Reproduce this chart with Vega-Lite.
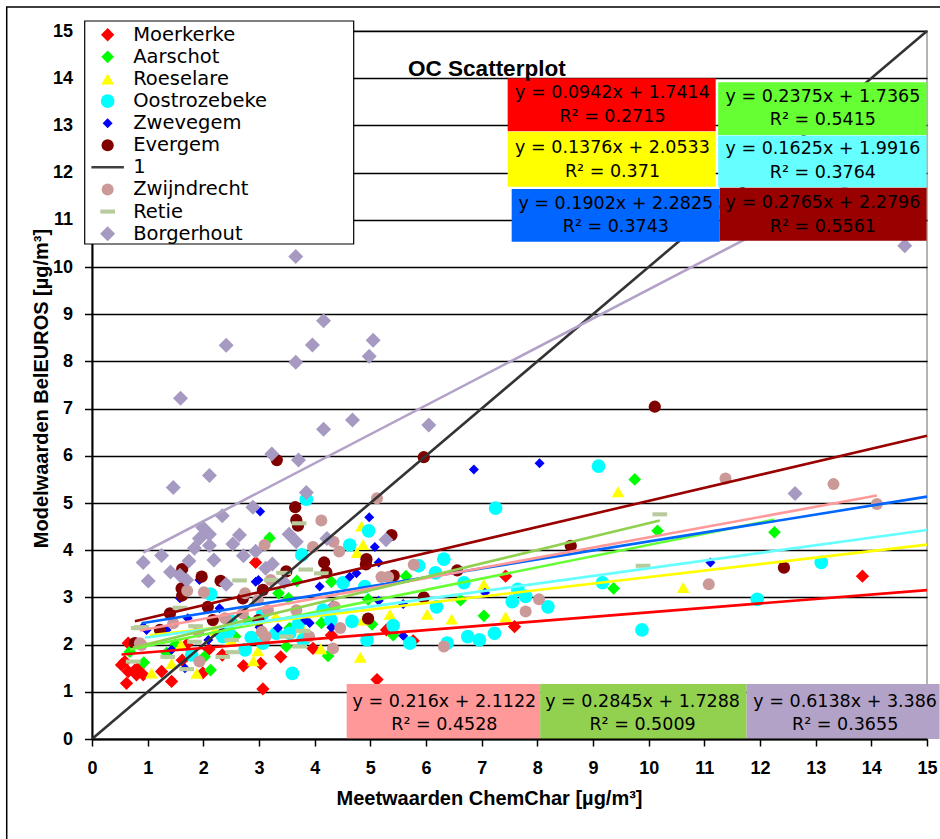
{
  "$schema": "https://vega.github.io/schema/vega-lite/v6.json",
  "width": 835,
  "height": 708,
  "autosize": "none",
  "padding": {"left": 92, "top": 31, "right": 13, "bottom": 100},
  "background": "#ffffff",
  "config": {
    "view": {"stroke": "#9a9a9a", "strokeWidth": 1.5},
    "axis": {"labelFlush": false, "labelOverlap": false}
  },
  "datasets": {
    "pts": [
      {"s": "Moerkerke", "x": 0.53, "y": 1.57}, {"s": "Moerkerke", "x": 0.59, "y": 1.64}, {"s": "Moerkerke", "x": 0.62, "y": 1.18}, {"s": "Moerkerke", "x": 0.65, "y": 2.03}, {"s": "Moerkerke", "x": 0.65, "y": 1.43}, {"s": "Moerkerke", "x": 0.77, "y": 1.46}, {"s": "Moerkerke", "x": 0.8, "y": 1.36}, {"s": "Moerkerke", "x": 0.83, "y": 1.5}, {"s": "Moerkerke", "x": 0.92, "y": 1.36}, {"s": "Moerkerke", "x": 1.25, "y": 1.43}, {"s": "Moerkerke", "x": 1.43, "y": 1.22}, {"s": "Moerkerke", "x": 1.62, "y": 1.67}, {"s": "Moerkerke", "x": 1.99, "y": 1.4}, {"s": "Moerkerke", "x": 2.34, "y": 1.78}, {"s": "Moerkerke", "x": 2.72, "y": 1.55}, {"s": "Moerkerke", "x": 3.03, "y": 1.6}, {"s": "Moerkerke", "x": 3.07, "y": 1.06}, {"s": "Moerkerke", "x": 3.39, "y": 1.74}, {"s": "Moerkerke", "x": 2.94, "y": 3.74}, {"s": "Moerkerke", "x": 3.97, "y": 1.92}, {"s": "Moerkerke", "x": 5.12, "y": 1.26}, {"s": "Moerkerke", "x": 5.29, "y": 2.31}, {"s": "Moerkerke", "x": 5.77, "y": 2.08}, {"s": "Moerkerke", "x": 7.43, "y": 3.45}, {"s": "Moerkerke", "x": 7.59, "y": 2.38}, {"s": "Moerkerke", "x": 13.84, "y": 3.45}, {"s": "Moerkerke", "x": 1.7, "y": 2.0}, {"s": "Moerkerke", "x": 2.1, "y": 1.9}, {"s": "Moerkerke", "x": 4.3, "y": 2.2},
      {"s": "Aarschot", "x": 0.68, "y": 1.85}, {"s": "Aarschot", "x": 0.93, "y": 1.62}, {"s": "Aarschot", "x": 1.34, "y": 1.82}, {"s": "Aarschot", "x": 2.02, "y": 1.74}, {"s": "Aarschot", "x": 2.13, "y": 1.46}, {"s": "Aarschot", "x": 2.5, "y": 2.52}, {"s": "Aarschot", "x": 2.57, "y": 2.17}, {"s": "Aarschot", "x": 3.04, "y": 2.24}, {"s": "Aarschot", "x": 3.19, "y": 4.26}, {"s": "Aarschot", "x": 3.35, "y": 3.09}, {"s": "Aarschot", "x": 3.49, "y": 1.96}, {"s": "Aarschot", "x": 3.53, "y": 2.98}, {"s": "Aarschot", "x": 3.55, "y": 2.35}, {"s": "Aarschot", "x": 3.68, "y": 3.35}, {"s": "Aarschot", "x": 4.12, "y": 2.46}, {"s": "Aarschot", "x": 4.24, "y": 1.76}, {"s": "Aarschot", "x": 4.3, "y": 3.33}, {"s": "Aarschot", "x": 4.96, "y": 2.96}, {"s": "Aarschot", "x": 5.03, "y": 2.43}, {"s": "Aarschot", "x": 5.41, "y": 2.2}, {"s": "Aarschot", "x": 5.64, "y": 3.45}, {"s": "Aarschot", "x": 6.62, "y": 2.94}, {"s": "Aarschot", "x": 7.04, "y": 2.61}, {"s": "Aarschot", "x": 9.37, "y": 3.19}, {"s": "Aarschot", "x": 9.75, "y": 5.5}, {"s": "Aarschot", "x": 10.16, "y": 4.41}, {"s": "Aarschot", "x": 12.26, "y": 4.38}, {"s": "Aarschot", "x": 1.5, "y": 2.0}, {"s": "Aarschot", "x": 2.3, "y": 2.2}, {"s": "Aarschot", "x": 2.8, "y": 2.5},
      {"s": "Roeselare", "x": 1.07, "y": 1.4}, {"s": "Roeselare", "x": 1.43, "y": 1.6}, {"s": "Roeselare", "x": 1.88, "y": 1.39}, {"s": "Roeselare", "x": 2.9, "y": 1.66}, {"s": "Roeselare", "x": 2.98, "y": 1.87}, {"s": "Roeselare", "x": 4.11, "y": 1.91}, {"s": "Roeselare", "x": 4.82, "y": 1.73}, {"s": "Roeselare", "x": 4.84, "y": 4.51}, {"s": "Roeselare", "x": 4.87, "y": 4.12}, {"s": "Roeselare", "x": 4.76, "y": 3.95}, {"s": "Roeselare", "x": 4.87, "y": 2.52}, {"s": "Roeselare", "x": 5.35, "y": 2.64}, {"s": "Roeselare", "x": 6.02, "y": 2.64}, {"s": "Roeselare", "x": 6.46, "y": 2.54}, {"s": "Roeselare", "x": 7.04, "y": 3.28}, {"s": "Roeselare", "x": 7.43, "y": 2.59}, {"s": "Roeselare", "x": 9.45, "y": 5.24}, {"s": "Roeselare", "x": 10.62, "y": 3.21}, {"s": "Roeselare", "x": 1.6, "y": 2.0}, {"s": "Roeselare", "x": 2.2, "y": 2.3}, {"s": "Roeselare", "x": 2.5, "y": 2.1}, {"s": "Roeselare", "x": 3.3, "y": 2.6}, {"s": "Roeselare", "x": 3.8, "y": 2.3},
      {"s": "Oostrozebeke", "x": 1.79, "y": 1.78}, {"s": "Oostrozebeke", "x": 2.13, "y": 3.07}, {"s": "Oostrozebeke", "x": 2.35, "y": 2.17}, {"s": "Oostrozebeke", "x": 2.45, "y": 2.27}, {"s": "Oostrozebeke", "x": 2.47, "y": 2.52}, {"s": "Oostrozebeke", "x": 2.75, "y": 1.89}, {"s": "Oostrozebeke", "x": 2.86, "y": 2.15}, {"s": "Oostrozebeke", "x": 3.07, "y": 2.03}, {"s": "Oostrozebeke", "x": 3.07, "y": 2.66}, {"s": "Oostrozebeke", "x": 3.31, "y": 2.24}, {"s": "Oostrozebeke", "x": 3.55, "y": 2.24}, {"s": "Oostrozebeke", "x": 3.6, "y": 1.39}, {"s": "Oostrozebeke", "x": 3.7, "y": 2.42}, {"s": "Oostrozebeke", "x": 3.77, "y": 3.9}, {"s": "Oostrozebeke", "x": 3.79, "y": 2.1}, {"s": "Oostrozebeke", "x": 3.85, "y": 5.08}, {"s": "Oostrozebeke", "x": 4.15, "y": 2.73}, {"s": "Oostrozebeke", "x": 4.29, "y": 2.52}, {"s": "Oostrozebeke", "x": 4.51, "y": 3.31}, {"s": "Oostrozebeke", "x": 4.63, "y": 4.11}, {"s": "Oostrozebeke", "x": 4.67, "y": 2.49}, {"s": "Oostrozebeke", "x": 4.9, "y": 3.23}, {"s": "Oostrozebeke", "x": 4.94, "y": 2.1}, {"s": "Oostrozebeke", "x": 4.97, "y": 4.41}, {"s": "Oostrozebeke", "x": 5.41, "y": 2.4}, {"s": "Oostrozebeke", "x": 5.71, "y": 2.03}, {"s": "Oostrozebeke", "x": 5.87, "y": 3.67}, {"s": "Oostrozebeke", "x": 6.17, "y": 3.52}, {"s": "Oostrozebeke", "x": 6.19, "y": 2.8}, {"s": "Oostrozebeke", "x": 6.32, "y": 3.81}, {"s": "Oostrozebeke", "x": 6.38, "y": 2.03}, {"s": "Oostrozebeke", "x": 6.68, "y": 3.31}, {"s": "Oostrozebeke", "x": 6.75, "y": 2.17}, {"s": "Oostrozebeke", "x": 6.96, "y": 2.1}, {"s": "Oostrozebeke", "x": 7.23, "y": 2.24}, {"s": "Oostrozebeke", "x": 7.25, "y": 4.89}, {"s": "Oostrozebeke", "x": 7.55, "y": 2.91}, {"s": "Oostrozebeke", "x": 7.65, "y": 3.17}, {"s": "Oostrozebeke", "x": 7.79, "y": 3.02}, {"s": "Oostrozebeke", "x": 8.19, "y": 2.8}, {"s": "Oostrozebeke", "x": 9.1, "y": 5.78}, {"s": "Oostrozebeke", "x": 9.17, "y": 3.31}, {"s": "Oostrozebeke", "x": 9.88, "y": 2.31}, {"s": "Oostrozebeke", "x": 11.95, "y": 2.96}, {"s": "Oostrozebeke", "x": 13.1, "y": 3.74},
      {"s": "Zwevegem", "x": 0.92, "y": 2.38}, {"s": "Zwevegem", "x": 0.98, "y": 2.31}, {"s": "Zwevegem", "x": 1.34, "y": 2.31}, {"s": "Zwevegem", "x": 1.43, "y": 1.89}, {"s": "Zwevegem", "x": 1.58, "y": 2.98}, {"s": "Zwevegem", "x": 1.67, "y": 1.5}, {"s": "Zwevegem", "x": 1.72, "y": 2.56}, {"s": "Zwevegem", "x": 1.93, "y": 3.37}, {"s": "Zwevegem", "x": 2.09, "y": 2.1}, {"s": "Zwevegem", "x": 2.29, "y": 2.77}, {"s": "Zwevegem", "x": 2.72, "y": 3.85}, {"s": "Zwevegem", "x": 2.94, "y": 3.33}, {"s": "Zwevegem", "x": 2.99, "y": 3.37}, {"s": "Zwevegem", "x": 3.01, "y": 2.37}, {"s": "Zwevegem", "x": 3.02, "y": 4.82}, {"s": "Zwevegem", "x": 3.34, "y": 2.35}, {"s": "Zwevegem", "x": 3.83, "y": 2.52}, {"s": "Zwevegem", "x": 3.91, "y": 2.46}, {"s": "Zwevegem", "x": 4.09, "y": 3.23}, {"s": "Zwevegem", "x": 4.3, "y": 2.36}, {"s": "Zwevegem", "x": 4.33, "y": 2.84}, {"s": "Zwevegem", "x": 4.63, "y": 3.44}, {"s": "Zwevegem", "x": 4.75, "y": 3.51}, {"s": "Zwevegem", "x": 4.98, "y": 4.7}, {"s": "Zwevegem", "x": 5.08, "y": 4.07}, {"s": "Zwevegem", "x": 5.15, "y": 3.74}, {"s": "Zwevegem", "x": 5.15, "y": 2.93}, {"s": "Zwevegem", "x": 5.59, "y": 2.86}, {"s": "Zwevegem", "x": 5.59, "y": 2.19}, {"s": "Zwevegem", "x": 6.86, "y": 5.71}, {"s": "Zwevegem", "x": 7.06, "y": 3.1}, {"s": "Zwevegem", "x": 8.04, "y": 5.84}, {"s": "Zwevegem", "x": 11.11, "y": 3.74},
      {"s": "Evergem", "x": 0.77, "y": 2.03}, {"s": "Evergem", "x": 1.22, "y": 2.31}, {"s": "Evergem", "x": 1.4, "y": 2.66}, {"s": "Evergem", "x": 1.61, "y": 3.19}, {"s": "Evergem", "x": 1.62, "y": 3.04}, {"s": "Evergem", "x": 1.62, "y": 3.6}, {"s": "Evergem", "x": 1.97, "y": 3.44}, {"s": "Evergem", "x": 2.08, "y": 2.8}, {"s": "Evergem", "x": 2.17, "y": 2.52}, {"s": "Evergem", "x": 2.31, "y": 3.35}, {"s": "Evergem", "x": 2.71, "y": 2.98}, {"s": "Evergem", "x": 2.99, "y": 2.52}, {"s": "Evergem", "x": 3.07, "y": 3.16}, {"s": "Evergem", "x": 3.32, "y": 5.91}, {"s": "Evergem", "x": 3.49, "y": 3.55}, {"s": "Evergem", "x": 3.65, "y": 4.91}, {"s": "Evergem", "x": 3.67, "y": 4.64}, {"s": "Evergem", "x": 3.7, "y": 4.52}, {"s": "Evergem", "x": 4.17, "y": 3.74}, {"s": "Evergem", "x": 4.21, "y": 3.53}, {"s": "Evergem", "x": 4.92, "y": 3.7}, {"s": "Evergem", "x": 4.93, "y": 3.81}, {"s": "Evergem", "x": 4.96, "y": 2.55}, {"s": "Evergem", "x": 5.38, "y": 4.32}, {"s": "Evergem", "x": 5.42, "y": 3.46}, {"s": "Evergem", "x": 5.96, "y": 3.0}, {"s": "Evergem", "x": 5.96, "y": 5.97}, {"s": "Evergem", "x": 6.56, "y": 3.57}, {"s": "Evergem", "x": 8.6, "y": 4.09}, {"s": "Evergem", "x": 10.11, "y": 7.04}, {"s": "Evergem", "x": 12.43, "y": 3.63},
      {"s": "Zwijndrecht", "x": 0.86, "y": 2.03}, {"s": "Zwijndrecht", "x": 0.89, "y": 1.99}, {"s": "Zwijndrecht", "x": 1.46, "y": 2.45}, {"s": "Zwijndrecht", "x": 1.71, "y": 3.14}, {"s": "Zwijndrecht", "x": 1.91, "y": 2.27}, {"s": "Zwijndrecht", "x": 1.93, "y": 1.64}, {"s": "Zwijndrecht", "x": 2.01, "y": 3.11}, {"s": "Zwijndrecht", "x": 2.39, "y": 2.56}, {"s": "Zwijndrecht", "x": 2.71, "y": 2.66}, {"s": "Zwijndrecht", "x": 2.75, "y": 3.09}, {"s": "Zwijndrecht", "x": 2.98, "y": 2.94}, {"s": "Zwijndrecht", "x": 3.05, "y": 2.27}, {"s": "Zwijndrecht", "x": 3.1, "y": 4.11}, {"s": "Zwijndrecht", "x": 3.12, "y": 2.17}, {"s": "Zwijndrecht", "x": 3.16, "y": 2.73}, {"s": "Zwijndrecht", "x": 3.21, "y": 3.37}, {"s": "Zwijndrecht", "x": 3.67, "y": 2.73}, {"s": "Zwijndrecht", "x": 3.9, "y": 2.17}, {"s": "Zwijndrecht", "x": 3.97, "y": 4.07}, {"s": "Zwijndrecht", "x": 4.12, "y": 4.63}, {"s": "Zwijndrecht", "x": 4.33, "y": 1.92}, {"s": "Zwijndrecht", "x": 4.34, "y": 4.18}, {"s": "Zwijndrecht", "x": 4.36, "y": 2.8}, {"s": "Zwijndrecht", "x": 4.44, "y": 3.97}, {"s": "Zwijndrecht", "x": 4.46, "y": 2.35}, {"s": "Zwijndrecht", "x": 5.12, "y": 5.1}, {"s": "Zwijndrecht", "x": 5.2, "y": 3.43}, {"s": "Zwijndrecht", "x": 5.32, "y": 3.43}, {"s": "Zwijndrecht", "x": 5.78, "y": 3.69}, {"s": "Zwijndrecht", "x": 6.32, "y": 1.96}, {"s": "Zwijndrecht", "x": 7.79, "y": 2.7}, {"s": "Zwijndrecht", "x": 8.03, "y": 2.96}, {"s": "Zwijndrecht", "x": 11.08, "y": 3.28}, {"s": "Zwijndrecht", "x": 11.38, "y": 5.52}, {"s": "Zwijndrecht", "x": 13.32, "y": 5.4}, {"s": "Zwijndrecht", "x": 14.1, "y": 4.98},
      {"s": "Retie", "x": 0.74, "y": 1.64}, {"s": "Retie", "x": 0.83, "y": 2.35}, {"s": "Retie", "x": 0.89, "y": 2.37}, {"s": "Retie", "x": 1.36, "y": 1.74}, {"s": "Retie", "x": 1.58, "y": 2.78}, {"s": "Retie", "x": 1.7, "y": 1.48}, {"s": "Retie", "x": 1.84, "y": 2.06}, {"s": "Retie", "x": 1.86, "y": 2.39}, {"s": "Retie", "x": 2.35, "y": 1.74}, {"s": "Retie", "x": 2.51, "y": 2.1}, {"s": "Retie", "x": 2.53, "y": 1.84}, {"s": "Retie", "x": 2.65, "y": 3.36}, {"s": "Retie", "x": 3.22, "y": 3.37}, {"s": "Retie", "x": 3.44, "y": 3.52}, {"s": "Retie", "x": 3.49, "y": 2.17}, {"s": "Retie", "x": 3.72, "y": 4.57}, {"s": "Retie", "x": 3.73, "y": 1.96}, {"s": "Retie", "x": 3.79, "y": 2.29}, {"s": "Retie", "x": 3.84, "y": 3.59}, {"s": "Retie", "x": 4.12, "y": 3.51}, {"s": "Retie", "x": 9.9, "y": 3.67}, {"s": "Retie", "x": 10.2, "y": 4.76},
      {"s": "Borgerhout", "x": 0.92, "y": 3.74}, {"s": "Borgerhout", "x": 1.01, "y": 3.35}, {"s": "Borgerhout", "x": 1.25, "y": 3.89}, {"s": "Borgerhout", "x": 1.41, "y": 3.54}, {"s": "Borgerhout", "x": 1.46, "y": 5.33}, {"s": "Borgerhout", "x": 1.58, "y": 3.47}, {"s": "Borgerhout", "x": 1.59, "y": 7.22}, {"s": "Borgerhout", "x": 1.7, "y": 3.37}, {"s": "Borgerhout", "x": 1.74, "y": 3.77}, {"s": "Borgerhout", "x": 1.84, "y": 4.04}, {"s": "Borgerhout", "x": 1.93, "y": 4.25}, {"s": "Borgerhout", "x": 1.99, "y": 4.48}, {"s": "Borgerhout", "x": 2.11, "y": 5.58}, {"s": "Borgerhout", "x": 2.11, "y": 4.34}, {"s": "Borgerhout", "x": 2.11, "y": 4.1}, {"s": "Borgerhout", "x": 2.19, "y": 3.79}, {"s": "Borgerhout", "x": 2.34, "y": 4.73}, {"s": "Borgerhout", "x": 2.41, "y": 8.34}, {"s": "Borgerhout", "x": 2.41, "y": 3.28}, {"s": "Borgerhout", "x": 2.53, "y": 4.13}, {"s": "Borgerhout", "x": 2.65, "y": 4.32}, {"s": "Borgerhout", "x": 2.72, "y": 3.88}, {"s": "Borgerhout", "x": 2.89, "y": 4.91}, {"s": "Borgerhout", "x": 2.94, "y": 3.98}, {"s": "Borgerhout", "x": 3.12, "y": 3.62}, {"s": "Borgerhout", "x": 3.23, "y": 6.04}, {"s": "Borgerhout", "x": 3.24, "y": 3.71}, {"s": "Borgerhout", "x": 3.45, "y": 3.32}, {"s": "Borgerhout", "x": 3.54, "y": 4.34}, {"s": "Borgerhout", "x": 3.66, "y": 10.22}, {"s": "Borgerhout", "x": 3.66, "y": 7.98}, {"s": "Borgerhout", "x": 3.67, "y": 4.18}, {"s": "Borgerhout", "x": 3.71, "y": 5.91}, {"s": "Borgerhout", "x": 3.85, "y": 5.22}, {"s": "Borgerhout", "x": 3.96, "y": 8.35}, {"s": "Borgerhout", "x": 4.16, "y": 8.86}, {"s": "Borgerhout", "x": 4.16, "y": 6.56}, {"s": "Borgerhout", "x": 4.22, "y": 4.25}, {"s": "Borgerhout", "x": 4.68, "y": 6.76}, {"s": "Borgerhout", "x": 4.98, "y": 8.11}, {"s": "Borgerhout", "x": 5.05, "y": 8.45}, {"s": "Borgerhout", "x": 5.28, "y": 4.22}, {"s": "Borgerhout", "x": 6.05, "y": 6.65}, {"s": "Borgerhout", "x": 12.63, "y": 5.2}, {"s": "Borgerhout", "x": 14.6, "y": 10.45}
    ],
    "trend": [
      {"s": "1", "x": 0, "y": 0}, {"s": "1", "x": 15, "y": 15},
      {"s": "Moerkerke", "x": 0.53, "y": 1.7913}, {"s": "Moerkerke", "x": 15, "y": 3.1544},
      {"s": "Aarschot", "x": 0.68, "y": 1.898}, {"s": "Aarschot", "x": 12.26, "y": 4.6483},
      {"s": "Roeselare", "x": 1.04, "y": 2.1964}, {"s": "Roeselare", "x": 15, "y": 4.1173},
      {"s": "Oostrozebeke", "x": 0.95, "y": 2.146}, {"s": "Oostrozebeke", "x": 15, "y": 4.4291},
      {"s": "Zwevegem", "x": 0.89, "y": 2.4518}, {"s": "Zwevegem", "x": 15, "y": 5.1355},
      {"s": "Evergem", "x": 0.77, "y": 2.4925}, {"s": "Evergem", "x": 15, "y": 6.4271},
      {"s": "Zwijndrecht", "x": 0.86, "y": 2.298}, {"s": "Zwijndrecht", "x": 14.1, "y": 5.1578},
      {"s": "Retie", "x": 0.74, "y": 1.9393}, {"s": "Retie", "x": 10.2, "y": 4.6307},
      {"s": "Borgerhout", "x": 0.92, "y": 3.9507}, {"s": "Borgerhout", "x": 15, "y": 12.593}
    ],
    "chartframe": [
      {"x0": -1.532, "x1": 15.6, "y0": -2.4, "y1": 15.507}
    ],
    "legendframe": [
      {"x0": -0.131, "x1": 4.701, "y0": 10.487, "y1": 15.212}
    ],
    "eq": [
      {"s": "Moerkerke", "x0": 7.467, "x1": 11.204, "y0": 12.875, "y1": 13.998, "xm": 9.35, "ym": 13.68, "t": "y = 0.0942x + 1.7414\nR² = 0.2715"},
      {"s": "Aarschot", "x0": 11.248, "x1": 14.992, "y0": 12.797, "y1": 13.913, "xm": 13.13, "ym": 13.6, "t": "y = 0.2375x + 1.7365\nR² = 0.5415"},
      {"s": "Roeselare", "x0": 7.467, "x1": 11.204, "y0": 11.701, "y1": 12.867, "xm": 9.35, "ym": 12.515, "t": "y = 0.1376x + 2.0533\nR² = 0.371"},
      {"s": "Oostrozebeke", "x0": 11.248, "x1": 14.992, "y0": 11.689, "y1": 12.786, "xm": 13.13, "ym": 12.494, "t": "y = 0.1625x + 1.9916\nR² = 0.3764"},
      {"s": "Zwevegem", "x0": 7.539, "x1": 11.276, "y0": 10.536, "y1": 11.653, "xm": 9.41, "ym": 11.335, "t": "y = 0.1902x + 2.2825\nR² = 0.3743"},
      {"s": "Evergem", "x0": 11.276, "x1": 14.992, "y0": 10.557, "y1": 11.68, "xm": 13.13, "ym": 11.35, "t": "y = 0.2765x + 2.2796\nR² = 0.5561"},
      {"s": "Zwijndrecht", "x0": 4.575, "x1": 8.051, "y0": 0, "y1": 1.165, "xm": 6.33, "ym": 0.79, "t": "y = 0.216x + 2.1122\nR² = 0.4528"},
      {"s": "Retie", "x0": 8.051, "x1": 11.76, "y0": 0, "y1": 1.165, "xm": 9.89, "ym": 0.79, "t": "y = 0.2845x + 1.7288\nR² = 0.5009"},
      {"s": "Borgerhout", "x0": 11.76, "x1": 15.227, "y0": 0, "y1": 1.165, "xm": 13.53, "ym": 0.79, "t": "y = 0.6138x + 3.386\nR² = 0.3655"}
    ]
  },
  "layer": [
    {
      "data": {"name": "chartframe"},
      "mark": {"type": "rect", "fill": "transparent", "stroke": "#000000", "strokeWidth": 1.5},
      "encoding": {
        "x": {"field": "x0", "type": "quantitative", "axis": null},
        "x2": {"field": "x1"},
        "y": {"field": "y0", "type": "quantitative"},
        "y2": {"field": "y1"}
      }
    },
    {
      "data": {"name": "pts"},
      "mark": {"type": "point", "filled": true, "opacity": 1, "strokeWidth": 0},
      "encoding": {
        "x": {
          "field": "x", "type": "quantitative",
          "scale": {"domain": [0, 15], "nice": false, "zero": false},
          "axis": {
            "values": [0, 1, 2, 3, 4, 5, 6, 7, 8, 9, 10, 11, 12, 13, 14, 15],
            "grid": false, "zindex": 1,
            "domainColor": "#000000", "domainWidth": 2,
            "tickColor": "#000000", "tickWidth": 1.5, "tickSize": 7,
            "labelFont": "Liberation Sans", "labelFontSize": 18, "labelFontWeight": "bold", "labelColor": "#000000", "labelPadding": 13,
            "title": "Meetwaarden ChemChar [µg/m³]",
            "titleFont": "Liberation Sans", "titleFontSize": 20, "titleFontWeight": "bold", "titleColor": "#000000",
            "titleX": 397, "titleY": 65, "titleAlign": "center", "titleBaseline": "alphabetic"
          }
        },
        "y": {
          "field": "y", "type": "quantitative",
          "scale": {"domain": [0, 15], "nice": false, "zero": false},
          "axis": {
            "values": [0, 1, 2, 3, 4, 5, 6, 7, 8, 9, 10, 11, 12, 13, 14, 15],
            "grid": true, "gridColor": "#000000", "gridWidth": 1.3, "gridOpacity": 1,
            "domainColor": "#000000", "domainWidth": 2,
            "tickColor": "#000000", "tickWidth": 1.5, "tickSize": 7.5,
            "labelFont": "Liberation Sans", "labelFontSize": 18, "labelFontWeight": "bold", "labelColor": "#000000", "labelPadding": 12,
            "title": "Modelwaarden BelEUROS [µg/m³]",
            "titleFont": "Liberation Sans", "titleFontSize": 20, "titleFontWeight": "bold", "titleColor": "#000000",
            "titleX": -45, "titleY": 357, "titleAngle": 270, "titleAlign": "center", "titleBaseline": "alphabetic"
          }
        },
        "color": {
          "field": "s", "type": "nominal",
          "scale": {
            "domain": ["Moerkerke", "Aarschot", "Roeselare", "Oostrozebeke", "Zwevegem", "Evergem", "1", "Zwijndrecht", "Retie", "Borgerhout"],
            "range": ["#ff0000", "#00ff00", "#ffff00", "#00ffff", "#0000ff", "#800000", "#404040", "#cc9999", "#b7cb9c", "#a699c2"]
          },
          "legend": {
            "title": null, "orient": "none", "legendX": -7, "legendY": -8,
            "padding": 2,
            "symbolSize": 144, "symbolOffset": 10.9, "symbolStrokeWidth": 0, "symbolOpacity": 1,
            "labelOffset": 15.8, "labelFont": "DejaVu Sans", "labelFontSize": 19.5, "labelColor": "#000000", "labelLimit": 400,
            "rowPadding": 1.1
          }
        },
        "shape": {
          "field": "s", "type": "nominal",
          "scale": {
            "domain": ["Moerkerke", "Aarschot", "Roeselare", "Oostrozebeke", "Zwevegem", "Evergem", "1", "Zwijndrecht", "Retie", "Borgerhout"],
            "range": ["diamond", "diamond", "triangle-up", "circle", "diamond", "circle", "M-3.25,-0.25H3.25V0.25H-3.25Z", "circle", "M-1,-0.28H1V0.28H-1Z", "diamond"]
          }
        },
        "size": {
          "field": "s", "type": "nominal", "legend": null,
          "scale": {
            "type": "ordinal",
            "domain": ["Moerkerke", "Aarschot", "Roeselare", "Oostrozebeke", "Zwevegem", "Evergem", "1", "Zwijndrecht", "Retie", "Borgerhout"],
            "range": [177, 161, 160, 188, 100, 150, 100, 144, 216, 225]
          }
        }
      }
    },
    {
      "data": {"name": "trend"},
      "mark": {"type": "line", "strokeWidth": 2.6},
      "encoding": {
        "x": {"field": "x", "type": "quantitative", "axis": null},
        "y": {"field": "y", "type": "quantitative"},
        "stroke": {
          "field": "s", "type": "nominal", "legend": null,
          "scale": {
            "domain": ["1", "Moerkerke", "Aarschot", "Roeselare", "Oostrozebeke", "Zwevegem", "Evergem", "Zwijndrecht", "Retie", "Borgerhout"],
            "range": ["#333333", "#ff0000", "#66ff33", "#ffff00", "#66ffff", "#0066ff", "#990000", "#ff9999", "#92d050", "#b3a2c7"]
          }
        }
      }
    },
    {
      "data": {"name": "legendframe"},
      "mark": {"type": "rect", "fill": "#ffffff", "stroke": "#000000", "strokeWidth": 1.2},
      "encoding": {
        "x": {"field": "x0", "type": "quantitative", "axis": null},
        "x2": {"field": "x1"},
        "y": {"field": "y0", "type": "quantitative"},
        "y2": {"field": "y1"}
      }
    },
    {
      "data": {"name": "eq"},
      "mark": {"type": "rect"},
      "encoding": {
        "x": {"field": "x0", "type": "quantitative", "axis": null},
        "x2": {"field": "x1"},
        "y": {"field": "y0", "type": "quantitative"},
        "y2": {"field": "y1"},
        "fill": {
          "field": "s", "type": "nominal", "legend": null,
          "scale": {
            "domain": ["Moerkerke", "Aarschot", "Roeselare", "Oostrozebeke", "Zwevegem", "Evergem", "Zwijndrecht", "Retie", "Borgerhout"],
            "range": ["#ff0000", "#66ff33", "#ffff00", "#66ffff", "#0066ff", "#990000", "#ff9999", "#92d050", "#b3a2c7"]
          }
        }
      }
    },
    {
      "data": {"name": "eq"},
      "mark": {"type": "text", "font": "DejaVu Sans", "fontSize": 17.5, "lineBreak": "\n", "lineHeight": 23.4, "align": "center", "baseline": "middle", "color": "#000000"},
      "encoding": {
        "x": {
          "field": "xm", "type": "quantitative",
          "axis": {
            "orient": "top", "domain": false, "ticks": false, "labels": false, "grid": false, "zindex": 1,
            "title": "OC Scatterplot",
            "titleFont": "Liberation Sans", "titleFontSize": 22.5, "titleFontWeight": "bold", "titleColor": "#000000",
            "titleX": 315.6, "titleY": 44, "titleAlign": "left", "titleBaseline": "alphabetic"
          }
        },
        "y": {"field": "ym", "type": "quantitative"},
        "text": {"field": "t"}
      }
    }
  ],
  "resolve": {"axis": {"x": "independent"}}
}
